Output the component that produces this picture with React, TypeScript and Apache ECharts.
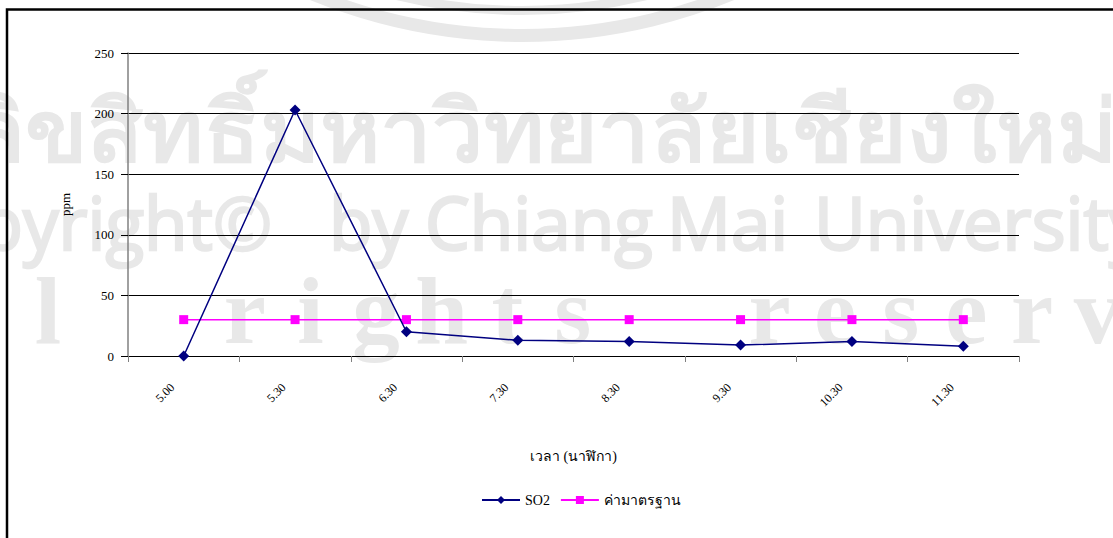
import React, { useEffect, useRef } from "react";
import * as echarts from "echarts";

const categories = ["5.00", "5.30", "6.30", "7.30", "8.30", "9.30", "10.30", "11.30"];
const so2Values = [0, 203, 20, 13, 12, 9, 12, 8];
const standardValues = [30, 30, 30, 30, 30, 30, 30, 30];
const seriesNames = ["SO2", "ค่ามาตรฐาน"];
const xAxisName = "เวลา (นาฬิกา)";
const yAxisName = "ppm";

const wmThai = "ลิขสิทธิ์มหาวิทยาลัยเชียงใหม่";
const wmWords = [
  { t: "Copyright©", x: 272, align: "right" },
  { t: "by", x: 329, align: "left" },
  { t: "Chiang", x: 425, align: "left" },
  { t: "Mai", x: 667, align: "left" },
  { t: "University", x: 814, align: "left" },
];
const wmRow3 = "All  rights  reserved";

const WM = "#e8e8e8";
const WMS = "#dcdcdc";

export default function App() {
  const ref = useRef<HTMLDivElement>(null);
  useEffect(() => {
    const chart = echarts.init(ref.current!, null, { renderer: "svg" });
    const graphics: any[] = [];
    const shadow = { textShadowColor: WMS, textShadowOffsetX: 3, textShadowOffsetY: 3 };
    graphics.push({
      type: "circle",
      z: -10,
      silent: true,
      shape: { cx: 522, cy: -515, r: 550.5 },
      style: { stroke: WM, lineWidth: 13, fill: "none" },
    });
    graphics.push({
      type: "circle",
      z: -10,
      silent: true,
      shape: { cx: 522, cy: -515, r: 525.5 },
      style: { stroke: WM, lineWidth: 9, fill: "none" },
    });
    graphics.push({
      type: "text",
      z: -10,
      silent: true,
      x: 543,
      y: 170,
      scaleX: 1.08,
      style: {
        text: wmThai,
        font: "bold 85px 'Noto Sans', sans-serif",
        fill: WM,
        align: "center",
        verticalAlign: "bottom",
        ...shadow,
      },
    });
    wmWords.forEach((w) => {
      graphics.push({
        type: "text",
        z: -10,
        silent: true,
        x: w.x,
        y: 184,
        scaleX: 0.96,
        style: {
          text: w.t,
          font: "74px 'Open Sans', sans-serif",
          fill: WM,
          stroke: WM,
          lineWidth: 2.5,
          align: w.align,
          verticalAlign: "top",
          ...shadow,
        },
      });
    });
    wmRow3.split("").forEach((c, i) => {
      if (c === " ") return;
      graphics.push({
        type: "text",
        z: -10,
        silent: true,
        x: 48 + (i - 2) * 65.6,
        y: 263,
        style: {
          text: c,
          font: "bold 95px 'Liberation Serif', serif",
          fill: WM,
          align: "center",
          verticalAlign: "top",
          ...shadow,
        },
      });
    });
    graphics.push({
      type: "rect",
      z: 10,
      silent: true,
      shape: { x: 7, y: 9.5, width: 1300, height: 700 },
      style: { fill: "none", stroke: "#000", lineWidth: 2.5 },
    });

    const serif = "'Liberation Serif', 'Times New Roman', serif";
    chart.setOption({
      animation: false,
      backgroundColor: "#fff",
      textStyle: { fontFamily: serif },
      graphic: graphics,
      grid: { left: 128, right: 94, top: 53, bottom: 182, containLabel: false },
      legend: {
        left: 476,
        top: 488,
        itemWidth: 38,
        itemHeight: 10,
        itemGap: 10,
        textStyle: { fontFamily: serif, fontSize: 14, color: "#000" },
        data: seriesNames,
      },
      xAxis: {
        type: "category",
        data: categories,
        boundaryGap: true,
        name: xAxisName,
        nameLocation: "middle",
        nameGap: 93,
        nameTextStyle: { fontFamily: serif, fontSize: 14, color: "#000" },
        axisLine: { lineStyle: { color: "#000", width: 1 } },
        axisTick: { show: true, length: 6, inside: false, alignWithLabel: false, lineStyle: { color: "#808080" } },
        axisLabel: {
          rotate: 45,
          margin: 18,
          padding: [0, 16, 0, 0],
          fontSize: 12,
          color: "#000",
          fontFamily: serif,
          interval: 0,
        },
        splitLine: { show: false },
      },
      yAxis: {
        type: "value",
        min: 0,
        max: 250,
        interval: 50,
        name: yAxisName,
        nameLocation: "middle",
        nameGap: 56,
        nameTextStyle: { fontFamily: serif, fontSize: 13, color: "#000" },
        axisLine: { show: true, lineStyle: { color: "#808080", width: 1.5 } },
        axisTick: { show: true, length: 7, lineStyle: { color: "#000" } },
        axisLabel: { margin: 14, fontSize: 13, color: "#000", fontFamily: serif },
        splitLine: { show: true, lineStyle: { color: "#000", width: 1 } },
      },
      series: [
        {
          name: seriesNames[0],
          type: "line",
          data: so2Values,
          symbol: "diamond",
          symbolSize: 11,
          lineStyle: { color: "#000080", width: 1.5 },
          itemStyle: { color: "#000080" },
          z: 3,
        },
        {
          name: seriesNames[1],
          type: "line",
          data: standardValues,
          symbol: "rect",
          symbolSize: 9,
          lineStyle: { color: "#FF00FF", width: 1.5 },
          itemStyle: { color: "#FF00FF" },
          z: 2,
        },
      ],
    });
    return () => chart.dispose();
  }, []);
  return (
    <div
      ref={ref}
      style={{ position: "fixed", left: 0, top: 0, width: 1113, height: 538, background: "#fff" }}
    />
  );
}
